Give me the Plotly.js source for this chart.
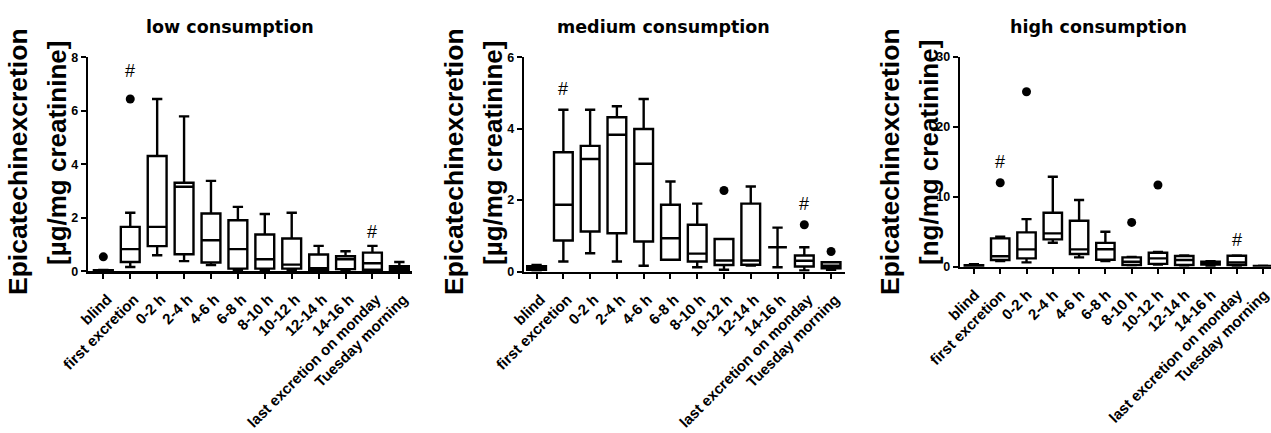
<!DOCTYPE html>
<html>
<head>
<meta charset="utf-8">
<script src="https://cdn.plot.ly/plotly-3.0.1.min.js"></script>
<style>html,body{margin:0;padding:0;background:#fff;}#chart{width:1271px;height:433px;}</style>
</head>
<body>
<div id="chart"></div>
<script>
// ---- data ----
const categories = ["blind","first excretion","0-2 h","2-4 h","4-6 h","6-8 h","8-10 h","10-12 h","12-14 h","14-16 h","last excretion on monday","Tuesday morning"];
const panelTitles = ["low consumption","medium consumption","high consumption"];
const yTitleLine1 = "Epicatechinexcretion";
const yTitleLine2 = ["[µg/mg creatinine]","[µg/mg creatinine]","[ng/mg creatinine]"];

const lowMin = [0, 0.16, 0.60, 0.38, 0.23, 0.06, 0.04, 0.03, 0.02, 0.04, 0.03, 0.02];
const lowQ1  = [0, 0.35, 0.94, 0.64, 0.33, 0.10, 0.10, 0.10, 0.06, 0.08, 0.06, 0.04];
const lowMed = [0.02, 0.83, 1.66, 3.16, 1.16, 0.83, 0.45, 0.25, 0.12, 0.45, 0.30, 0.12];
const lowQ3  = [0.04, 1.66, 4.31, 3.31, 2.16, 1.91, 1.375, 1.225, 0.63, 0.56, 0.70, 0.19];
const lowMax = [0.05, 2.19, 6.44, 5.79, 3.38, 2.41, 2.14, 2.19, 0.95, 0.75, 0.95, 0.35];
const lowOutCat = ["blind","first excretion"];
const lowOutVal = [0.54, 6.44];

const medMin = [0.03, 0.28, 0.51, 0.28, 0.16, 0.33, 0.12, 0.05, 0.17, 0.12, 0.03, 0.05];
const medQ1  = [0.05, 0.87, 1.12, 1.07, 0.84, 0.33, 0.28, 0.18, 0.19, 0.68, 0.14, 0.09];
const medMed = [0.10, 1.87, 3.15, 3.83, 3.02, 0.93, 0.50, 0.31, 0.31, 0.68, 0.30, 0.16];
const medQ3  = [0.15, 3.34, 3.52, 4.32, 3.99, 1.87, 1.31, 0.91, 1.90, 0.68, 0.45, 0.26];
const medMax = [0.18, 4.53, 4.53, 4.63, 4.83, 2.52, 1.90, 0.91, 2.38, 1.23, 0.68, 0.26];
const medOutCat = ["10-12 h","last excretion on monday","Tuesday morning"];
const medOutVal = [2.27, 1.31, 0.56];

const highMin = [0.02, 0.80, 0.62, 3.43, 1.33, 0.80, 0.20, 0.30, 0.15, 0.10, 0.10, 0.03];
const highQ1  = [0.05, 0.95, 1.19, 3.90, 1.81, 1.00, 0.24, 0.40, 0.24, 0.30, 0.24, 0.05];
const highMed = [0.10, 1.50, 2.48, 4.76, 2.48, 2.50, 0.71, 1.19, 0.95, 0.50, 0.62, 0.08];
const highQ3  = [0.20, 4.05, 4.90, 7.71, 6.57, 3.40, 1.33, 2.00, 1.52, 0.70, 1.57, 0.12];
const highMax = [0.35, 4.30, 6.80, 12.86, 9.52, 5.00, 1.40, 2.10, 1.60, 0.80, 1.60, 0.15];
const highOutCat = ["first excretion","0-2 h","8-10 h","10-12 h"];
const highOutVal = [12.0, 25.0, 6.33, 11.67];

const hashCat = ["first excretion","last excretion on monday"];
const lowHashY = [7.5, 1.47];
const medHashY = [5.11, 1.9];
const highHashY = [15.0, 3.8];

const yTicks = [[0,2,4,6,8],[0,2,4,6],[0,10,20,30]];
const yRanges = [[0,8],[0,6],[0,30]];

// ---- layout geometry (pixels) ----
const W = 1271, H = 433;
const xPix = [[88,412],[524,845],[960,1271]];
const xRanges = [[-0.57,11.47],[-0.47,11.52],[-0.53,11.3]];
const yPix = [[57.3,271.3],[57.3,271.5],[56.7,266.7]];
const titleX = [230, 663, 1098];
const labelShift = [4, 4, 1];

const stats = [
  [lowMin,lowQ1,lowMed,lowQ3,lowMax,lowOutCat,lowOutVal,lowHashY],
  [medMin,medQ1,medMed,medQ3,medMax,medOutCat,medOutVal,medHashY],
  [highMin,highQ1,highMed,highQ3,highMax,highOutCat,highOutVal,highHashY]
];

const FONT = "Liberation Sans, Arial, sans-serif";
const traces = [];
const layout = {
  width: W, height: H,
  margin: {l:0,r:0,t:0,b:0},
  paper_bgcolor: "#fff", plot_bgcolor: "#fff",
  showlegend: false,
  annotations: []
};

stats.forEach((s, i) => {
  const n = i === 0 ? "" : String(i+1);
  const xa = "x" + n, ya = "y" + n;
  traces.push({
    type: "box", xaxis: xa, yaxis: ya,
    x: categories,
    lowerfence: s[0], q1: s[1], median: s[2], q3: s[3], upperfence: s[4],
    boxpoints: false,
    width: 0.7, whiskerwidth: 0.55,
    fillcolor: "#fff",
    line: {color: "#000", width: 2.4},
    hoverinfo: "skip"
  });
  traces.push({
    type: "scatter", mode: "markers", xaxis: xa, yaxis: ya,
    x: s[5], y: s[6],
    marker: {color: "#000", size: 9},
    cliponaxis: false, hoverinfo: "skip"
  });
  layout["xaxis" + n] = {
    domain: [xPix[i][0]/W, xPix[i][1]/W],
    anchor: ya, type: "category",
    categoryorder: "array", categoryarray: categories,
    range: xRanges[i],
    showline: true, linecolor: "#000", linewidth: 2.4,
    ticks: "outside", ticklen: 5, tickwidth: 2, tickcolor: "#000",
    tickangle: -45, ticklabelstandoff: 6, ticklabelshift: labelShift[i],
    tickfont: {family: FONT, size: 15, color: "#000", weight: "bold"},
    showgrid: false, zeroline: false, automargin: false, fixedrange: true
  };
  layout["yaxis" + n] = {
    domain: [1 - yPix[i][1]/H, 1 - yPix[i][0]/H],
    anchor: xa, range: yRanges[i],
    tickvals: yTicks[i],
    showline: true, linecolor: "#000", linewidth: 2.4,
    ticks: "outside", ticklen: 5, tickwidth: 2, tickcolor: "#000",
    tickfont: {family: FONT, size: 12.5, color: "#000", weight: "bold"},
    showgrid: false, zeroline: false, automargin: false, fixedrange: true
  };
  // panel title
  layout.annotations.push({
    xref: "paper", yref: "paper", x: titleX[i]/W, y: 1 - 27/H,
    xanchor: "center", yanchor: "middle", showarrow: false,
    text: panelTitles[i],
    font: {family: "DejaVu Sans, sans-serif", size: 17.5, color: "#000", weight: "bold"}
  });
  // y-axis titles (two lines)
  layout.annotations.push({
    xref: "paper", yref: "paper", x: (xPix[i][0]-70)/W, y: 1 - 162/H,
    xanchor: "center", yanchor: "middle", showarrow: false, textangle: -90,
    text: yTitleLine1,
    font: {family: FONT, size: 26.5, color: "#000", weight: "bold"}
  });
  layout.annotations.push({
    xref: "paper", yref: "paper", x: (xPix[i][0]-31)/W, y: 1 - 153/H,
    xanchor: "center", yanchor: "middle", showarrow: false, textangle: -90,
    text: yTitleLine2[i],
    font: {family: FONT, size: 26, color: "#000", weight: "bold"}
  });
  // hash marks
  hashCat.forEach((c, k) => {
    layout.annotations.push({
      xref: xa, yref: ya, x: c, y: s[7][k],
      xanchor: "center", yanchor: "middle", showarrow: false,
      text: "#", font: {family: FONT, size: 18, color: "#000"}
    });
  });
});

Plotly.newPlot("chart", traces, layout, {staticPlot: true, displayModeBar: false});
</script>
</body>
</html>
